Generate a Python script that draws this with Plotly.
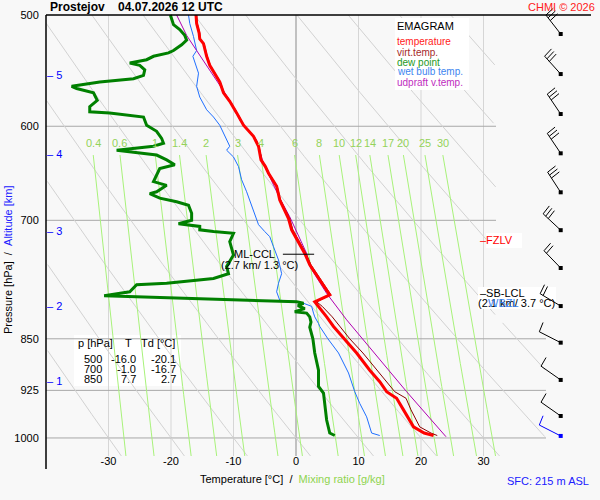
import numpy as np
import plotly.graph_objects as go

# sounding: pressure [hPa], temperature [degC]
temp_p = [500, 507, 515, 520, 524, 535, 543, 550, 558, 568, 576, 587, 599, 610, 620, 634, 641, 648,
          662, 677, 698, 711, 725, 739, 753, 766, 778, 791, 800, 806, 820, 833, 850, 870, 895, 912,
          927, 937, 955, 982, 992, 996]
temp_t = [-16.0, -15.9, -15.5, -15.4, -14.8, -14.3, -13.8, -13.0, -12.2, -11.6, -10.6, -9.5, -8.4,
          -6.8, -6.0, -5.6, -4.9, -4.4, -3.1, -2.6, -1.2, -0.7, 0.4, 1.4, 2.2, 3.3, 4.4, 5.4, 3.0,
          3.6, 4.9, 6.0, 7.7, 9.7, 11.8, 13.4, 14.5, 16.1, 17.2, 18.8, 20.5, 22.0]
virt_t = [-15.9, -15.8, -15.4, -15.3, -14.7, -14.2, -13.7, -12.9, -12.1, -11.5, -10.5, -9.4, -8.3,
          -6.7, -5.9, -5.5, -4.8, -4.3, -3.0, -2.5, -1.0, -0.5, 0.6, 1.6, 2.4, 3.5, 4.6, 5.6, 3.3,
          4.2, 5.8, 7.0, 8.6, 10.7, 13.0, 14.6, 15.8, 17.6, 18.4, 19.8, 21.6, 22.6]

dew_p = [500, 504, 508, 512, 517, 521, 525, 530, 532, 535, 538, 541, 543, 547, 552, 555, 558, 562,
         564, 568, 575, 581, 586, 587, 591, 599, 605, 612, 617, 620, 624, 626, 629, 634, 639, 643,
         650, 657, 661, 668, 670, 675, 679, 683, 692, 700, 704, 707, 711, 713, 715, 725, 733, 741,
         755, 764, 770, 776, 778, 787, 792, 800, 802, 805, 809, 813, 815, 820, 827, 834, 850, 870,
         895, 919, 929, 950, 971, 992, 996]
dew_t = [-20.1, -19.9, -19.6, -18.6, -17.8, -17.5, -18.3, -19.6, -20.4, -22.8, -23.9, -26.6, -25.0,
         -24.2, -24.4, -26.0, -31.4, -35.9, -35.1, -32.4, -31.8, -33.0, -33.0, -29.8, -24.4, -23.9,
         -22.3, -21.5, -21.2, -22.8, -28.7, -26.0, -22.3, -20.7, -19.4, -21.8, -22.3, -22.8, -20.7,
         -22.3, -23.4, -21.8, -19.1, -17.2, -16.7, -16.7, -18.8, -15.4, -15.4, -13.2, -10.0, -10.6,
         -10.3, -10.0, -11.1, -10.8, -13.2, -20.7, -25.5, -26.6, -30.7, 0.1, 1.2, 0.3, 1.4, -0.2,
         1.7, 2.2, 2.4, 2.2, 2.7, 3.0, 3.6, 3.6, 4.4, 4.6, 4.9, 5.4, 6.2]

wet_p = [500, 507, 518, 530, 535, 540, 550, 562, 572, 584, 591, 599, 610, 620, 624, 631, 641, 655,
         668, 688, 705, 713, 719, 731, 747, 764, 776, 787, 798, 800, 806, 815, 820, 829, 833, 850,
         870, 899, 927, 945, 966, 992, 996]
wet_t = [-17.2, -17.0, -16.4, -15.9, -16.5, -16.2, -15.6, -15.9, -15.4, -14.3, -13.2, -12.2, -11.4,
         -10.6, -11.1, -10.0, -9.2, -8.7, -7.9, -6.8, -6.0, -5.0, -4.2, -3.6, -2.8, -2.3, -2.8, -3.1,
         -2.6, 0.6, 2.5, 2.8, 3.0, 3.6, 3.8, 5.1, 6.8, 8.4, 9.4, 10.2, 11.3, 12.1, 13.4]

parcel_p = [500, 517, 530, 553, 575, 594, 614, 638, 675, 696, 739, 755, 789, 824, 852, 873, 927, 998]
parcel_t = [-19.1, -17.5, -15.9, -13.2, -10.6, -9.0, -6.3, -5.2, -2.6, -1.0, 1.7, 2.2, 4.9, 8.1,
            10.8, 12.9, 17.7, 24.0]

# wind barbs (every 0.5 km, last one = surface)
wind_p = [515.8, 550.8, 588.1, 627.2, 668.6, 711.4, 756.9, 805.6, 855.4, 909.3, 964.6, 996.7]
wind_dir = [322, 318, 326, 326, 327, 313, 316, 301, 297, 305, 305, 297]
wind_kt = [30, 30, 30, 30, 30, 30, 20, 20, 10, 10, 10, 10]

alt_km = [1, 2, 3, 4, 5]
alt_p = [910.7, 805.5, 712.3, 627.9, 551.6]

isobars = [600, 700, 850, 925, 1000]
isotherms = [-30, -20, -10, 10, 20, 30]
mix_ratios = [0.4, 0.6, 1, 1.4, 2, 3, 4, 6, 8, 10, 12, 14, 17, 20, 25, 30]
theta_lines = list(range(-30, 110, 10))
temp_ticks = [-30, -20, -10, 0, 10, 20, 30]

table_p = [500, 700, 850]
table_t = [-16.0, -1.0, 7.7]
table_td = [-20.1, -16.7, 2.7]

legend_names = ["temperature", "virt.temp.", "dew point", "wet bulb temp.", "udpraft v.temp."]
legend_colors = ["#ff1a1a", "#a52a2a", "#1e9a1e", "#3d85f0", "#c02cc0"]

# ---- geometry (pixels of the 600x500 page)
W, H = 600, 500
ML, MT, MB = 46, 7, 44          # plot area starts a bit above the 500 hPa line
Y500, Y_BOT = 15, 456           # pixel rows of 500 hPa and of the diagram bottom
PW, PH = W - ML, H - MT - MB
T_MIN, PX_C = -40.0, 6.25
T_MAX = T_MIN + PW / PX_C
P_TOP, P_BOT = 500.0, 1030.0
PX_DEC = (Y_BOT - Y500) / (np.log10(P_BOT) - np.log10(P_TOP))
LOG_AX_TOP = np.log10(P_TOP) - (Y500 - MT) / PX_DEC
FONT = "Liberation Sans, Arial, sans-serif"


def paper_x(x):
    return (x - ML) / PW


def paper_y(y):
    return 1 - (y - MT) / PH


def data_t(x):
    return T_MIN + (x - ML) / PX_C


def data_p(y):
    return P_TOP * 10 ** ((y - Y500) / PX_DEC)


def t_right(p):
    return 32.0 if p < 827 else 40.0


def sat_temp(w, p):
    es = w * p / (622.0 + w)
    a = np.log(es / 6.112)
    return 243.5 * a / (17.67 - a)


def joined(segments):
    xs, ys = [], []
    for sx, sy in segments:
        xs += list(sx) + [None]
        ys += list(sy) + [None]
    return xs, ys


fig = go.Figure()


def line(x, y, color, width=1, **kw):
    fig.add_trace(go.Scatter(x=x, y=y, mode="lines", line=dict(color=color, width=width),
                             hoverinfo="skip", showlegend=False, **kw))


def box(x0, y0, x1, y1):
    line([data_t(x0), data_t(x1), data_t(x1), data_t(x0), data_t(x0)],
         [data_p(y0), data_p(y0), data_p(y1), data_p(y1), data_p(y0)],
         "rgba(0,0,0,0)", fill="toself", fillcolor="white")


# data table background (grid shows through it)
box(74, 335, 181, 386)

# isotherms
xs, ys = joined([([t, t], [P_TOP, P_BOT]) for t in isotherms])
line(xs, ys, "#d6d6d6")
line([0, 0, None, 0, 0], [P_TOP, 845, None, 845, P_BOT], "#8a8a8a")

# isobars
xs, ys = joined([([T_MIN, t_right(p)], [p, p]) for p in isobars])
line(xs, ys, "#a8a8a8")

# dry adiabats
pp = np.geomspace(P_TOP, P_BOT, 160)
segs = []
for th in theta_lines:
    tt = (th + 273.15) * (pp / 1000.0) ** 0.2857 - 273.15
    ok = (tt >= T_MIN) & (tt <= np.array([t_right(p) for p in pp]))
    segs.append(([float(t) if k else None for t, k in zip(tt, ok)], list(pp)))
xs, ys = joined(segs)
line(xs, ys, "#d2d2d2")

# saturation mixing ratio lines
MIX_TOP = 629.0
pm = np.geomspace(MIX_TOP, P_BOT, 40)
xs, ys = joined([(sat_temp(w, pm), pm) for w in mix_ratios])
line(xs, ys, "#a8f27a")

# legend / label backgrounds
box(395, 18, 469, 90)
box(486, 233, 522, 248)
box(478, 287, 556, 309)

# profiles
line(wet_t, wet_p, "#1f6fff", 1)
line(parcel_t, parcel_p, "#b000b0", 1)
line(virt_t, temp_p, "#8b0000", 1)
line(dew_t, dew_p, "#008000", 3)
line(temp_t, temp_p, "#ff0000", 3)

# ML-CCL marker
ccl_p, ccl_t = 740, 1.3
line([ccl_t - 3.4, ccl_t + 1.6], [ccl_p, ccl_p], "black", 1)

# wind barbs
BARB_T = data_t(560.7)


def barb(p0, direction, speed):
    d = np.radians(direction)
    ux, uy = np.sin(d), -np.cos(d)      # staff, screen coords (y down)
    nx, ny = -uy, ux                    # feathers on the clockwise side
    a = np.radians(5)
    fx, fy = np.cos(a) * nx + np.sin(a) * ux, np.cos(a) * ny + np.sin(a) * uy
    staff = 24.0
    pts = [[(0, 0), (staff * ux, staff * uy)]]
    for i in range(int(speed // 10)):
        s = staff - 3.5 * i
        pts.append([(s * ux, s * uy), (s * ux + 10 * fx, s * uy + 10 * fy)])
    if speed % 10 >= 5:
        s = staff - 3.5 * int(speed // 10)
        pts.append([(s * ux, s * uy), (s * ux + 5 * fx, s * uy + 5 * fy)])
    xs, ys = [], []
    for seg in pts:
        for dx, dy in seg:
            xs.append(BARB_T + dx / PX_C)
            ys.append(p0 * 10 ** (dy / PX_DEC))
        xs.append(None)
        ys.append(None)
    return xs, ys


for i, (p0, dd, ss) in enumerate(zip(wind_p, wind_dir, wind_kt)):
    col = "blue" if i == len(wind_p) - 1 else "black"
    bx, by = barb(p0, dd, ss)
    line(bx, by, col, 1)
    fig.add_trace(go.Scatter(x=[BARB_T], y=[p0], mode="markers", hoverinfo="skip", showlegend=False,
                             marker=dict(symbol="square", size=4, color=col), cliponaxis=False))

# ---- text
ann = []


def text(t, x, y, size=11, color="black", xanchor="left", **kw):
    ann.append(dict(text=t, x=paper_x(x), y=paper_y(y), xref="paper", yref="paper",
                    xanchor=xanchor, yanchor="middle", showarrow=False, borderpad=0,
                    font=dict(size=size, color=color, family=FONT), **kw))


text("<b>Prostejov \u00a0\u00a0\u00a004.07.2026 12 UTC</b>", 49, 7, size=12)
text("CHMI \u00a9 2026", 596, 7, color="#ff2020", xanchor="right")

text("EMAGRAM", 396, 26)
for i, (nm, c) in enumerate(zip(legend_names, legend_colors)):
    text(nm, 396, 42 + 10 * i, size=10, color=c)

text("p [hPa]", 77, 343)
text("T", 128, 343, xanchor="center")
text("Td [\u00b0C]", 140, 343)
for i, (p, t, td) in enumerate(zip(table_p, table_t, table_td)):
    yy = 359 + 10 * i
    text(str(p), 103, yy, xanchor="right")
    text(f"{t:.1f}", 137, yy, xanchor="right")
    text(f"{td:.1f}", 177, yy, xanchor="right")

text("ML-CCL", 276, 254, xanchor="right")
text("(2.7 km/ 1.3 \u00b0C)", 259, 265, xanchor="center")
text("\u2013FZLV", 479, 240, color="#ff0000")
text("\u2013SB-LCL", 479, 293)
text("(2.1 km/ 3.7 \u00b0C)", 477, 303)
text("WBZL", 487, 303, color="#3d85f0")

text("Temperature [\u00b0C] \u00a0/ \u00a0<span style='color:#8fd44f'>Mixing ratio [g/kg]</span>",
     292, 479, xanchor="center")
text("SFC: 215 m ASL", 590, 481, color="#2020ff", xanchor="right")
text("Pressure [hPa] \u00a0/ \u00a0<span style='color:#2020ff'>Altitude [km]</span>",
     8, 260, xanchor="center", textangle=-90)

for km, p in zip(alt_km, alt_p):
    ann.append(dict(text=f"\u2013 {km}", x=0, y=np.log10(p), xref="paper", yref="y",
                    xanchor="left", yanchor="middle", showarrow=False, borderpad=0,
                    font=dict(size=11, color="#0000ff", family=FONT)))

for w in mix_ratios:
    ann.append(dict(text=f"{w:g}", x=float(sat_temp(w, MIX_TOP)), y=np.log10(617), xref="x", yref="y",
                    xanchor="center", yanchor="middle", showarrow=False, borderpad=0,
                    font=dict(size=11, color="#94d35a", family=FONT)))

fig.update_layout(
    width=W, height=H,
    margin=dict(l=ML, r=0, t=MT, b=MB),
    paper_bgcolor="#f8f8f8", plot_bgcolor="#f8f8f8",
    showlegend=False,
    font=dict(family=FONT, size=11, color="black"),
    annotations=ann,
    shapes=[
        dict(type="line", xref="paper", yref="paper", x0=0, x1=paper_x(591),
             y0=paper_y(Y500), y1=paper_y(Y500), line=dict(color="black", width=1.5)),
        dict(type="line", xref="paper", yref="paper", x0=0, x1=0,
             y0=paper_y(Y500), y1=paper_y(469), line=dict(color="black", width=1.5)),
    ],
    xaxis=dict(range=[T_MIN, T_MAX], showgrid=False, zeroline=False, showline=False,
               tickvals=temp_ticks, ticktext=[str(t) for t in temp_ticks], ticks="",
               ticklabelstandoff=-3, tickfont=dict(size=11)),
    yaxis=dict(type="log", range=[np.log10(P_BOT), LOG_AX_TOP], showgrid=False,
               zeroline=False, showline=False, tickvals=[500] + isobars,
               ticktext=[str(p) for p in [500] + isobars], ticks="outside", ticklen=4,
               tickcolor="rgba(0,0,0,0)", tickfont=dict(size=11)),
)

# the page body has a default 8px margin; drop it so the figure fills the window
fig.write_html("out.html", config={"displayModeBar": False},
               post_script="document.body.style.margin='0';")
